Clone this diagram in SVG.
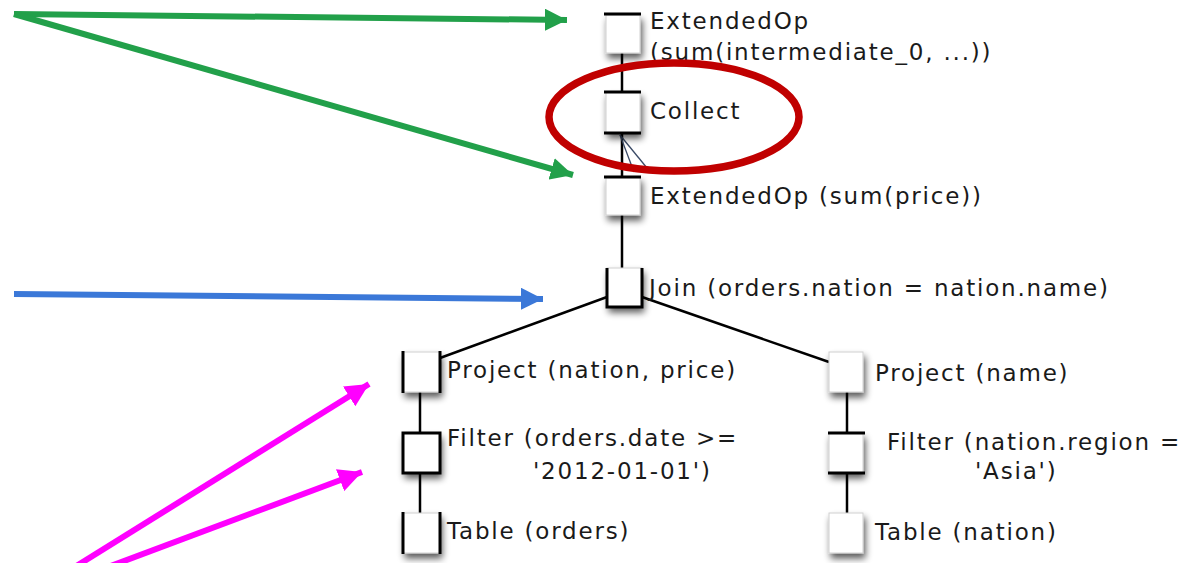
<svg xmlns="http://www.w3.org/2000/svg" width="1188" height="563" viewBox="0 0 1188 563">
  <style>
    .lbl { font-family: "DejaVu Sans", Verdana, sans-serif; font-size: 23px; letter-spacing: 1.8px; fill: #1a1a1a; }
    .box { fill: #ffffff; stroke: #d0d0d0; stroke-width: 1; filter: url(#shadow); }
    .edge { stroke: #000000; stroke-width: 2.5; fill: none; }
    .bar { stroke: #000000; stroke-width: 3; fill: none; }
    .thin { stroke: #3a4a66; stroke-width: 1.3; fill: none; }
    .green { stroke: #22a04a; stroke-width: 6; fill: none; }
    .blue { stroke: #3b78d8; stroke-width: 6; fill: none; }
    .pink { stroke: #ff00ff; stroke-width: 6; fill: none; }
  </style>
  <defs>
    <filter id="shadow" x="-40%" y="-40%" width="190%" height="190%">
      <feGaussianBlur in="SourceAlpha" stdDeviation="3.5"/>
      <feOffset dx="2" dy="5" result="b"/>
      <feComponentTransfer><feFuncA type="linear" slope="0.65"/></feComponentTransfer>
      <feMerge><feMergeNode/><feMergeNode in="SourceGraphic"/></feMerge>
    </filter>
    <marker id="hGreen" viewBox="0 0 10 10" refX="10" refY="5" markerWidth="3.7" markerHeight="3.7" markerUnits="strokeWidth" orient="auto">
      <path d="M0,0 L10,5 L0,10 Z" fill="#22a04a"/>
    </marker>
    <marker id="hBlue" viewBox="0 0 10 10" refX="10" refY="5" markerWidth="3.7" markerHeight="3.7" markerUnits="strokeWidth" orient="auto">
      <path d="M0,0 L10,5 L0,10 Z" fill="#3b78d8"/>
    </marker>
    <marker id="hPink" viewBox="0 0 10 10" refX="10" refY="5" markerWidth="3.9" markerHeight="3.9" markerUnits="strokeWidth" orient="auto">
      <path d="M0,0 L10,5 L0,10 Z" fill="#ff00ff"/>
    </marker>
  </defs>

  <!-- plan tree edges -->
  <g id="connectors">
    <line class="edge" x1="622" y1="53" x2="622" y2="92"/>
    <line class="edge" x1="622" y1="133" x2="622" y2="177"/>
    <line class="thin" x1="620" y1="135" x2="634" y2="172"/>
    <line class="thin" x1="620" y1="135" x2="647" y2="168"/>
    <line class="edge" x1="622" y1="215" x2="622" y2="268"/>
    <line class="edge" x1="607" y1="297" x2="440" y2="358"/>
    <line class="edge" x1="642" y1="297" x2="829" y2="362"/>
    <line class="edge" x1="420" y1="392" x2="420" y2="433"/>
    <line class="edge" x1="420" y1="473" x2="420" y2="513"/>
    <line class="edge" x1="847" y1="392" x2="847" y2="433"/>
    <line class="edge" x1="847" y1="473" x2="847" y2="513"/>
  </g>

  <g id="n-extended-top">
    <rect class="box" x="606" y="15" width="34" height="38"/>
    <line class="bar" x1="604" y1="14" x2="641" y2="14"/>
    <text class="lbl" x="650" y="29">ExtendedOp</text>
    <text class="lbl" x="650" y="60">(sum(intermediate_0, ...))</text>
  </g>

  <g id="n-collect">
    <rect class="box" x="606" y="92" width="34" height="41"/>
    <line class="bar" x1="604" y1="92" x2="641" y2="92"/>
    <line class="bar" x1="604" y1="133" x2="641" y2="133"/>
    <text class="lbl" x="650" y="119">Collect</text>
  </g>

  <g id="n-extended-price">
    <rect class="box" x="606" y="177" width="34" height="38"/>
    <line class="bar" x1="604" y1="177" x2="641" y2="177"/>
    <text class="lbl" x="650" y="204">ExtendedOp (sum(price))</text>
  </g>

  <g id="n-join">
    <rect class="box" x="607" y="268" width="35" height="39"/>
    <path class="bar" d="M607,268 V307 H642 V268"/>
    <text class="lbl" x="649" y="296">Join (orders.nation = nation.name)</text>
  </g>

  <g id="n-project-left">
    <rect class="box" x="403" y="352" width="37" height="40"/>
    <line class="bar" x1="403" y1="351" x2="403" y2="393"/>
    <line class="bar" x1="440" y1="351" x2="440" y2="393"/>
    <text class="lbl" x="447" y="378">Project (nation, price)</text>
  </g>

  <g id="n-filter-left">
    <rect class="box" x="403" y="433" width="37" height="40"/>
    <rect x="403" y="433" width="37" height="40" class="bar"/>
    <text class="lbl" x="447" y="446">Filter (orders.date &gt;=</text>
    <text class="lbl" x="533" y="479">'2012-01-01')</text>
  </g>

  <g id="n-table-left">
    <rect class="box" x="403" y="513" width="37" height="40"/>
    <line class="bar" x1="403" y1="512" x2="403" y2="554"/>
    <line class="bar" x1="440" y1="512" x2="440" y2="554"/>
    <text class="lbl" x="447" y="539">Table (orders)</text>
  </g>

  <g id="n-project-right">
    <rect class="box" x="829" y="352" width="34" height="40"/>
    <text class="lbl" x="875" y="381">Project (name)</text>
  </g>

  <g id="n-filter-right">
    <rect class="box" x="829" y="433" width="34" height="40"/>
    <line class="bar" x1="828" y1="433" x2="865" y2="433"/>
    <line class="bar" x1="828" y1="473" x2="865" y2="473"/>
    <text class="lbl" x="887" y="450">Filter (nation.region =</text>
    <text class="lbl" x="975" y="479">'Asia')</text>
  </g>

  <g id="n-table-right">
    <rect class="box" x="829" y="513" width="34" height="40"/>
    <text class="lbl" x="875" y="540">Table (nation)</text>
  </g>

  <!-- annotation arrows and highlight -->
  <g id="annotations">
    <line class="green" x1="14" y1="14" x2="567" y2="20" marker-end="url(#hGreen)"/>
    <line class="green" x1="14" y1="14" x2="573" y2="175" marker-end="url(#hGreen)"/>
    <line class="blue" x1="14" y1="294" x2="543" y2="299" marker-end="url(#hBlue)"/>
    <line class="pink" x1="70" y1="570" x2="369" y2="384" marker-end="url(#hPink)"/>
    <line class="pink" x1="100" y1="570" x2="362" y2="472" marker-end="url(#hPink)"/>
    <ellipse cx="674" cy="117" rx="125" ry="54" fill="none" stroke="#c00000" stroke-width="7.5"/>
  </g>
</svg>
